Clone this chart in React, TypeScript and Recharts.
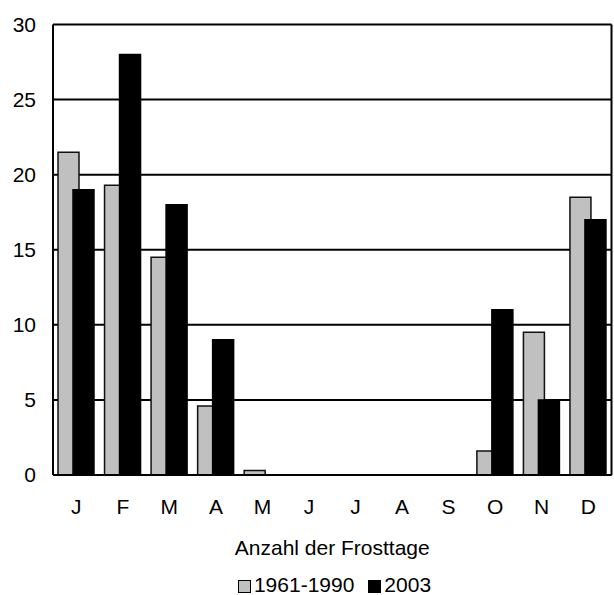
import React from 'react';
import { BarChart, Bar, XAxis, YAxis, CartesianGrid, Legend } from 'recharts';

const months = ['J', 'F', 'M', 'A', 'M', 'J', 'J', 'A', 'S', 'O', 'N', 'D'];
const normal = [21.5, 19.3, 14.5, 4.6, 0.3, 0, 0, 0, 0, 1.6, 9.5, 18.5];
const year2003 = [19, 28, 18, 9, 0, 0, 0, 0, 0, 11, 5, 17];
const yTicks = [0, 5, 10, 15, 20, 25, 30];
const seriesNames = ['1961-1990', '2003'];
const xTitle = 'Anzahl der Frosttage';

const data = months.map((m, i) => ({ month: m, normal: normal[i], y2003: year2003[i] }));

const FONT = '"Liberation Sans", Arial, sans-serif';

const renderLegend = (props: any) => {
  const { payload } = props;
  return (
    <div style={{ display: 'flex', justifyContent: 'center', alignItems: 'center', fontFamily: FONT, fontSize: 21, color: '#000' }}>
      {payload.map((p: any, i: number) => (
        <div key={i} style={{ display: 'flex', alignItems: 'center', marginRight: i === 0 ? 14 : 0 }}>
          <div style={{ boxSizing: 'border-box', width: 13, height: 13, background: p.color, border: '1.5px solid #000', marginRight: 3, marginTop: 2 }} />
          <span style={{ lineHeight: '24px' }}>{p.value}</span>
        </div>
      ))}
    </div>
  );
};

export default function App() {
  return (
    <div style={{ position: 'absolute', left: 0, top: 0, width: 614, height: 595, background: '#fff' }}>
      <BarChart
        width={614}
        height={595}
        data={data}
        margin={{ top: 24.5, right: 0, left: 0, bottom: 0 }}
        barSize={21}
        barGap={-6}
      >
        <CartesianGrid horizontal vertical={false} stroke="#000" strokeWidth={2} strokeOpacity={1} />
        <XAxis
          dataKey="month"
          height={120}
          tickLine={false}
          tickSize={0}
          tickMargin={24.5}
          axisLine={{ stroke: '#000', strokeWidth: 2 }}
          tick={{ fill: '#000', fontSize: 21, fontFamily: FONT }}
          interval={0}
          label={{ value: xTitle, position: 'insideTop', offset: 65, fill: '#000', fontSize: 21, fontFamily: FONT }}
        />
        <YAxis
          width={53}
          domain={[0, 30]}
          ticks={yTicks}
          tickLine={false}
          tickSize={0}
          tickMargin={17}
          axisLine={{ stroke: '#000', strokeWidth: 2 }}
          tick={{ fill: '#000', fontSize: 21, fontFamily: FONT }}
          interval={0}
        />
        <YAxis
          yAxisId="right"
          orientation="right"
          width={2.5}
          domain={[0, 30]}
          tick={false}
          tickLine={false}
          axisLine={{ stroke: '#000', strokeWidth: 2 }}
        />
        <Legend
          verticalAlign="middle"
          align="center"
          layout="horizontal"
          content={renderLegend}
          wrapperStyle={{ top: 573, left: 56, width: 557 }}
        />
        <Bar dataKey="normal" name={seriesNames[0]} fill="#c0c0c0" stroke="#111" strokeWidth={1.5} isAnimationActive={false} />
        <Bar dataKey="y2003" name={seriesNames[1]} fill="#000" stroke="#000" strokeWidth={1.5} isAnimationActive={false} />
      </BarChart>
    </div>
  );
}
